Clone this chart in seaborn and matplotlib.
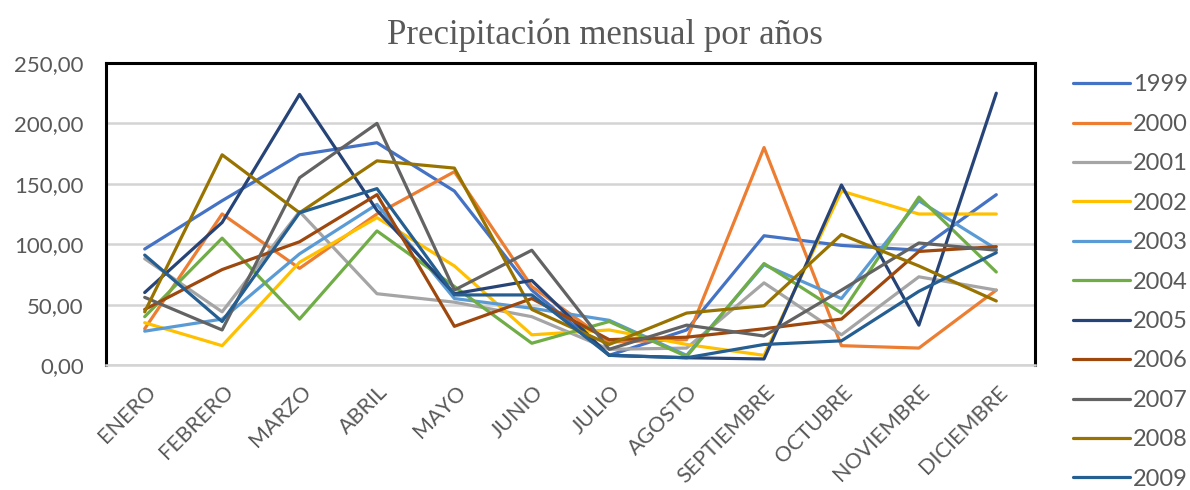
import matplotlib
matplotlib.use("Agg")
import matplotlib.pyplot as plt
from matplotlib.ticker import FuncFormatter
from matplotlib.transforms import ScaledTranslation
import seaborn as sns
import pandas as pd

months = ["ENERO", "FEBRERO", "MARZO", "ABRIL", "MAYO", "JUNIO", "JULIO",
          "AGOSTO", "SEPTIEMBRE", "OCTUBRE", "NOVIEMBRE", "DICIEMBRE"]

years = ["1999", "2000", "2001", "2002", "2003", "2004",
         "2005", "2006", "2007", "2008", "2009"]

p1999 = [96, 136, 174, 184, 144, 62, 8, 29, 107, 99, 95, 141]
p2000 = [30, 125, 80, 125, 160, 65, 19, 21, 180, 16, 14, 62]
p2001 = [88, 44, 127, 59, 52, 40, 13, 14, 68, 25, 73, 62]
p2002 = [35, 16, 85, 122, 82, 25, 29, 17, 8, 144, 125, 125]
p2003 = [28, 38, 92, 133, 55, 47, 37, 8, 83, 55, 136, 96]
p2004 = [40, 105, 38, 111, 65, 18, 36, 7, 84, 43, 139, 77]
p2005 = [60, 118, 224, 128, 59, 70, 8, 6, 5, 149, 33, 225]
p2006 = [46, 79, 102, 141, 32, 55, 21, 23, 30, 38, 94, 98]
p2007 = [56, 29, 155, 200, 62, 95, 13, 33, 24, 62, 101, 95]
p2008 = [44, 174, 126, 169, 163, 46, 17, 43, 49, 108, 82, 53]
p2009 = [91, 36, 126, 146, 58, 58, 8, 6, 17, 20, 61, 93]

series = [p1999, p2000, p2001, p2002, p2003, p2004,
          p2005, p2006, p2007, p2008, p2009]

colors = ["#4472C4", "#ED7D31", "#A5A5A5", "#FFC000", "#5B9BD5", "#70AD47",
          "#264478", "#9E480E", "#636363", "#997300", "#255E91"]

rows = []
for year, vals in zip(years, series):
    for i, v in enumerate(vals):
        rows.append({"mes": i, "valor": v, "anio": year})
df = pd.DataFrame(rows)

sns.set_theme(style="white")
plt.rcParams["font.family"] = ["Lato", "DejaVu Sans"]

fig = plt.figure(figsize=(11.9, 4.9), dpi=100)
ax = fig.add_axes([106 / 1190, 1 - 365 / 490, (1035 - 106) / 1190, (365 - 63) / 490])

sns.lineplot(data=df, x="mes", y="valor", hue="anio", hue_order=years,
             palette=colors, linewidth=2.3, sort=False, ax=ax)

ax.set_xlim(-0.5, 11.5)
ax.set_ylim(0, 250)
ax.set_yticks([0, 50, 100, 150, 200, 250])
ax.yaxis.set_major_formatter(FuncFormatter(lambda v, _: f"{v:.2f}".replace(".", ",")))
ax.set_xticks(range(len(months)))
ax.set_xticklabels(months, rotation=45, ha="right", va="center",
                   rotation_mode="anchor")
ax.tick_params(axis="x", length=0, pad=17, labelsize=15.5, labelcolor="#595959")
ax.tick_params(axis="y", length=0, pad=16, labelsize=16, labelcolor="#595959")
ax.set_xlabel("")
ax.set_ylabel("")

# nudge the slanted month names slightly to the right of their ticks
shift = ScaledTranslation(8 / 100, 0, fig.dpi_scale_trans)
for lbl in ax.get_xticklabels():
    lbl.set_transform(lbl.get_transform() + shift)

ax.grid(axis="y", color="#D4D4D4", linewidth=1.8)
ax.set_axisbelow(True)
for side in ["top", "left", "right"]:
    ax.spines[side].set_color("black")
    ax.spines[side].set_linewidth(2.2)
ax.spines["bottom"].set_color("#D4D4D4")
ax.spines["bottom"].set_linewidth(1.8)

fig.suptitle("Precipitación mensual por años", x=0.508, y=0.963,
             fontsize=25, color="#595959", family=["Liberation Serif", "DejaVu Serif"])

handles, labels = ax.get_legend_handles_labels()
ax.legend_.remove()
leg = fig.legend(handles, labels, loc="upper left", bbox_to_anchor=(0.9017, 0.848),
                 frameon=False, fontsize=17, handlelength=2.4, handletextpad=0.15,
                 labelspacing=0.78, borderaxespad=0, borderpad=0)
for t in leg.get_texts():
    t.set_color("#595959")
for h in leg.get_lines():
    h.set_linewidth(2.3)

fig.savefig("out.png", dpi=100, facecolor="white")
